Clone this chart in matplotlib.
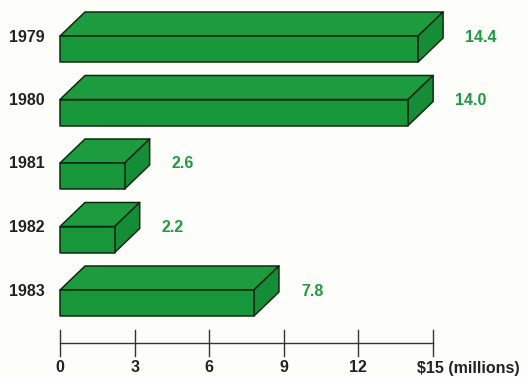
import matplotlib
matplotlib.use("Agg")
import matplotlib.pyplot as plt
from matplotlib.patches import Polygon

# Funding by year, $ millions
years = ["1979", "1980", "1981", "1982", "1983"]
values = [14.4, 14.0, 2.6, 2.2, 7.8]
tick_values = [0, 3, 6, 9, 12, 15]
tick_labels = ["0", "3", "6", "9", "12", "$15 (millions)"]

FRONT = "#18963a"
TOP = "#1c9c3e"
SIDE = "#158c36"
EDGE = "#0f2a14"
TEXT_GREEN = "#1f9a42"
TEXT_DARK = "#222222"
BG = "#fdfdf9"

W, H = 527, 377
fig = plt.figure(figsize=(W / 100, H / 100), dpi=100, facecolor=BG)
ax = fig.add_axes([0, 0, 1, 1])
ax.set_facecolor(BG)

# x: 0 -> 60 px, 15 -> 433 px ; y: bar index, row pitch 63.5 px
px_x = (433 - 60) / 15.0
px_y = 63.5
x0_px, y0_px = 60, 49
ax.set_xlim(-x0_px / px_x, (W - x0_px) / px_x)
ax.set_ylim((H - y0_px) / px_y, -y0_px / px_y)
ax.axis("off")

bar_h = 26 / px_y          # front face height
dx = 25 / px_x             # depth offset to the right
dy = -24 / px_y            # depth offset upward

font = dict(family="Liberation Sans", fontsize=11.5, fontweight="bold")

for i, (yr, v) in enumerate(zip(years, values)):
    top = i - bar_h / 2
    bot = i + bar_h / 2
    front = [(0, top), (v, top), (v, bot), (0, bot)]
    lid = [(0, top), (dx, top + dy), (v + dx, top + dy), (v, top)]
    side = [(v, top), (v + dx, top + dy), (v + dx, bot + dy), (v, bot)]
    for pts, col in ((lid, TOP), (side, SIDE), (front, FRONT)):
        ax.add_patch(Polygon(pts, closed=True, facecolor=col, edgecolor=EDGE,
                             linewidth=1.1, joinstyle="round"))
    yc = i + dy / 2
    ax.annotate(yr, xy=(0, yc), xytext=(-15 * 0.72, 0), textcoords="offset points",
                ha="right", va="center", color=TEXT_DARK, **font)
    ax.annotate(f"{v:.1f}", xy=(v + dx, yc), xytext=(22 * 0.72, 0),
                textcoords="offset points", ha="left", va="center",
                color=TEXT_GREEN, **font)

# x axis drawn as a bar with tall ticks
axis_y = (343 - y0_px) / px_y
tick_half = 13.5 / px_y
ax.plot([0, 15], [axis_y, axis_y], color="#333333", lw=1.0)
for t, lab in zip(tick_values, tick_labels):
    ax.plot([t, t], [axis_y - tick_half, axis_y + tick_half], color="#333333", lw=1.0)
    if t == tick_values[-1]:
        ax.annotate(lab, xy=(t, axis_y), xytext=(-16 * 0.72, -25 * 0.72),
                    textcoords="offset points", ha="left", va="center",
                    color=TEXT_DARK, **font)
    else:
        ax.annotate(lab, xy=(t, axis_y), xytext=(0, -25 * 0.72),
                    textcoords="offset points", ha="center", va="center",
                    color=TEXT_DARK, **font)

fig.savefig("out.png", dpi=100, facecolor=BG)
